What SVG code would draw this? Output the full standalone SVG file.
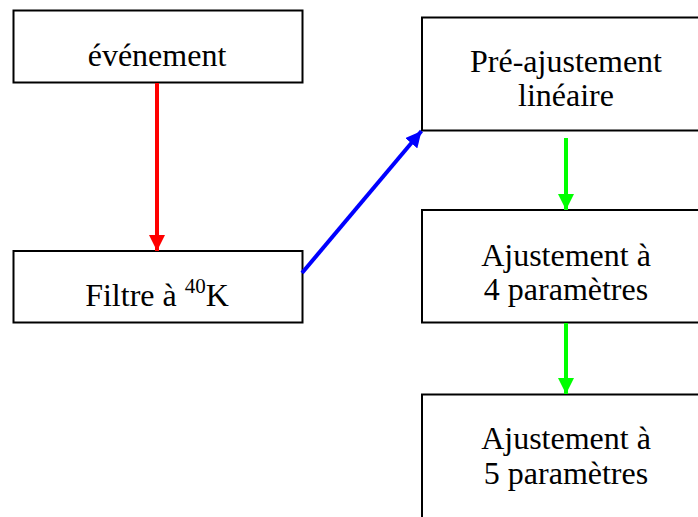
<svg xmlns="http://www.w3.org/2000/svg" width="698" height="517" viewBox="0 0 698 517">
<style>
.box{fill:#fff;stroke:#000;stroke-width:2}
.t{font-family:"Liberation Serif","Times New Roman",serif;font-size:32px;fill:#000;text-anchor:middle}
.c{fill:none;stroke-width:4}
</style>
<defs>
<marker id="ar" viewBox="0 0 10 10" refX="10" refY="5" markerWidth="4" markerHeight="4" markerUnits="strokeWidth" orient="auto"><path d="M0,0L10,5L0,10z" fill="#ff0000"/></marker>
<marker id="ag" viewBox="0 0 10 10" refX="10" refY="5" markerWidth="4" markerHeight="4" markerUnits="strokeWidth" orient="auto"><path d="M0,0L10,5L0,10z" fill="#00ff00"/></marker>
<marker id="ab" viewBox="0 0 10 10" refX="10" refY="5" markerWidth="4" markerHeight="4" markerUnits="strokeWidth" orient="auto"><path d="M0,0L10,5L0,10z" fill="#0000ff"/></marker>
</defs>
<rect width="698" height="517" fill="#fff"/>
<g id="n1"><rect class="box" x="13.5" y="10.5" width="289" height="72"/><text class="t" x="157" y="66">événement</text></g>
<g id="n2"><rect class="box" x="13.5" y="251" width="289" height="71.5"/><text class="t" x="157" y="306">Filtre à <tspan font-size="21" dy="-13">40</tspan><tspan dy="13">K</tspan></text></g>
<g id="n3"><rect class="box" x="422" y="17.5" width="290" height="113"/><text class="t" x="566" y="72">Pré-ajustement</text><text class="t" x="566" y="106">linéaire</text></g>
<g id="n4"><rect class="box" x="422" y="210" width="290" height="112.5"/><text class="t" x="566" y="266">Ajustement à</text><text class="t" x="566" y="300">4 paramètres</text></g>
<g id="n5"><rect class="box" x="422" y="394.5" width="290" height="140"/><text class="t" x="566" y="449">Ajustement à</text><text class="t" x="566" y="484">5 paramètres</text></g>
<g id="connectors">
<line class="c" x1="157" y1="83" x2="157" y2="251" stroke="#ff0000" marker-end="url(#ar)"/>
<line class="c" x1="302" y1="273" x2="421.5" y2="131" stroke="#0000ff" marker-end="url(#ab)"/>
<line class="c" x1="566" y1="138" x2="566" y2="210" stroke="#00ff00" marker-end="url(#ag)"/>
<line class="c" x1="566" y1="323" x2="566" y2="394" stroke="#00ff00" marker-end="url(#ag)"/>
</g>
</svg>
